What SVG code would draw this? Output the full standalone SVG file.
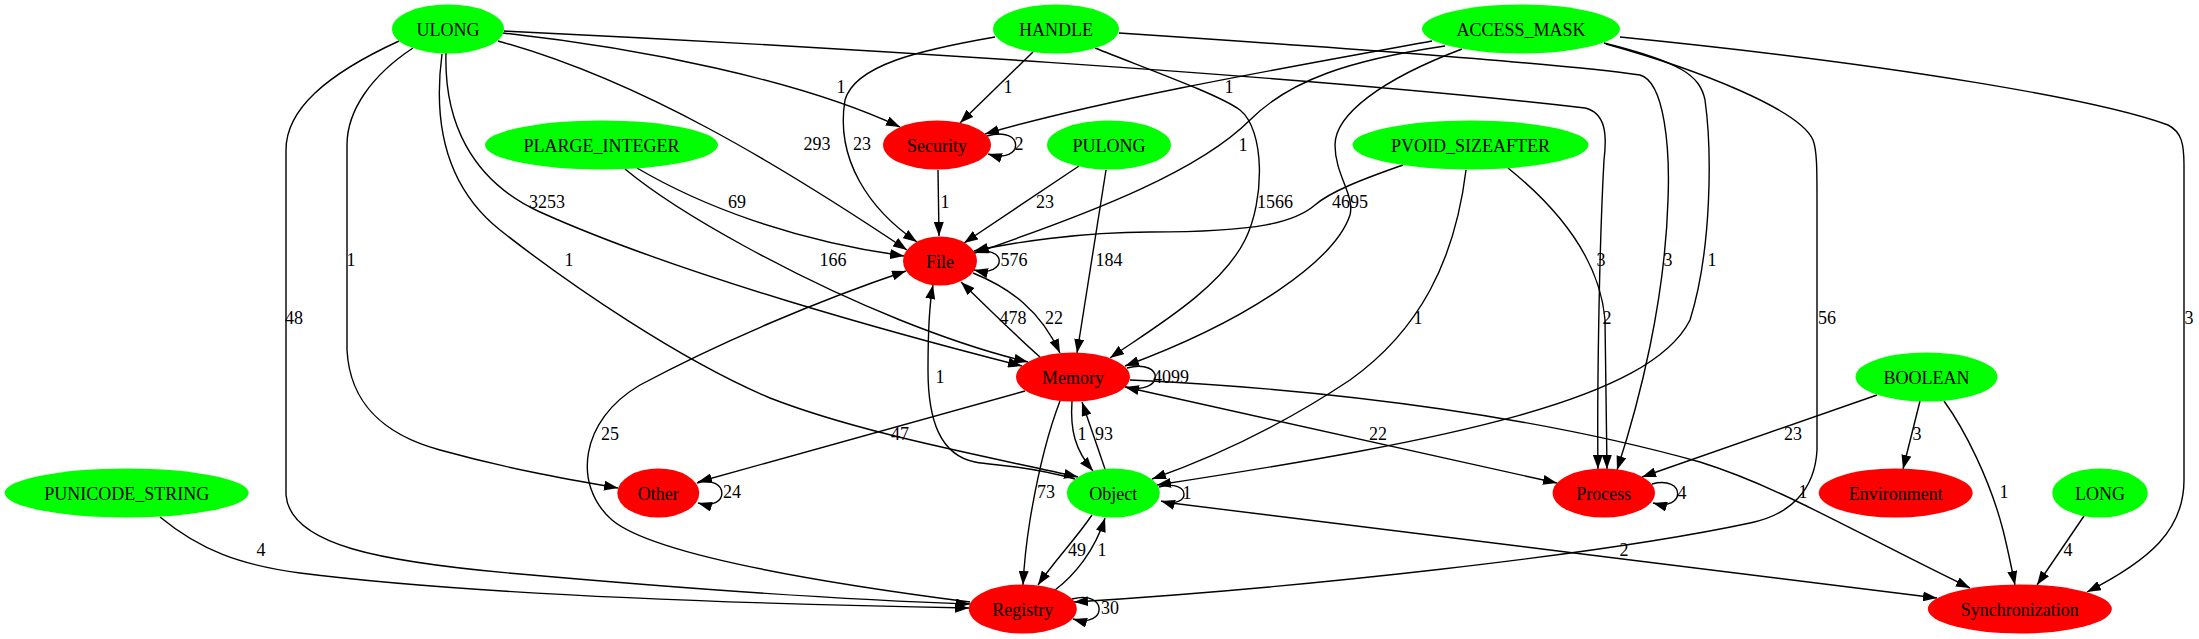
<svg xmlns="http://www.w3.org/2000/svg" width="2199" height="639" viewBox="0 0 2199 639">
<style>
text{font-family:"Liberation Serif","Times New Roman",serif;font-size:18px;text-anchor:middle;fill:#000}
.g{fill:#00ff00}
.r{fill:#ff0000}
#edges path{fill:none;stroke:#000;stroke-width:1.4;marker-end:url(#a)}
</style>
<defs>
<marker id="a" markerUnits="userSpaceOnUse" markerWidth="14" markerHeight="10" refX="14" refY="5" orient="auto"><path d="M0,0 L14,5 L0,10 z" fill="#000"/></marker>
</defs>
<rect width="2199" height="639" fill="#fff"/>
<g id="edges">
<path d="M503,33 C640,48 800,80 900,127"/>
<path d="M498,41 C640,80 780,165 907,250"/>
<path d="M446,53 C444,120 470,180 540,212 C680,275 900,335 1022,366"/>
<path d="M442,54 C432,130 450,190 500,230 C570,285 680,360 770,398 C860,433 980,455 1078,477"/>
<path d="M413,48 C372,75 347,110 347,145 L347,350 C350,405 385,435 440,450 C505,468 560,478 618,488"/>
<path d="M399,41 C325,75 286,110 286,150 L286,495 C290,545 380,562 520,574 C700,590 850,600 970,604"/>
<path d="M504,31 C800,45 1300,75 1585,108 C1606,113 1607,135 1604,160 C1599,250 1597,400 1598,469"/>
<path d="M160,517 C200,550 240,565 300,573 C450,592 700,603 969,608"/>
<path d="M1033,52 L960,123"/>
<path d="M995,37 C920,50 855,65 845,100 C835,160 870,210 917,242"/>
<path d="M1095,48 C1150,70 1220,95 1240,110 C1265,130 1265,200 1245,240 C1220,290 1150,330 1110,358"/>
<path d="M1119,33 C1300,45 1550,62 1640,75 C1665,82 1670,150 1668,200 C1665,300 1640,400 1617,470"/>
<path d="M1432,41 C1300,65 1100,100 985,134"/>
<path d="M1445,46 C1350,60 1290,80 1250,120 C1200,170 1100,210 975,253"/>
<path d="M1462,49 C1380,80 1335,115 1335,145 C1335,175 1355,195 1350,215 C1335,260 1250,320 1125,366"/>
<path d="M1604,43 C1680,62 1700,75 1705,100 C1712,150 1712,250 1690,320 C1650,400 1450,440 1157,485"/>
<path d="M1606,44 C1700,70 1800,110 1813,140 C1817,150 1817,170 1817,200 L1817,450 C1815,490 1790,515 1750,523 C1600,555 1300,588 1074,602"/>
<path d="M1620,37 C1900,65 2100,100 2168,125 C2182,132 2184,145 2184,165 L2184,480 C2184,530 2150,560 2087,592"/>
<path d="M637,168 C700,205 790,240 904,256"/>
<path d="M625,169 C680,215 800,280 900,320 C950,340 990,353 1028,362"/>
<path d="M1079,166 L964,243"/>
<path d="M1106,170 L1077,353"/>
<path d="M1403,165 C1360,180 1330,192 1315,205 C1295,222 1260,232 1150,232 C1080,232 1010,243 974,251"/>
<path d="M1466,170 C1455,260 1420,330 1350,380 C1290,420 1220,455 1152,479"/>
<path d="M1508,168 C1560,210 1600,260 1605,320 L1607,469"/>
<path d="M987,136 C1025,125 1025,165 988,154"/>
<path d="M938,170 L939,236"/>
<path d="M972,253 C1008,243 1008,278 974,270"/>
<path d="M973,273 C1010,288 1040,310 1060,353"/>
<path d="M1127,368 C1165,358 1165,396 1125,387"/>
<path d="M1040,357 C1015,335 985,305 961,282"/>
<path d="M1025,391 L698,482"/>
<path d="M1072,401 C1070,430 1075,450 1093,471"/>
<path d="M1060,401 C1045,440 1035,490 1030,520 C1026,545 1024,565 1023,585"/>
<path d="M1125,387 L1557,483"/>
<path d="M1130,380 C1350,390 1550,420 1700,462 C1780,487 1850,530 1970,588"/>
<path d="M1159,487 C1192,478 1192,510 1161,501"/>
<path d="M1075,479 C1020,464 995,466 975,462 C940,455 928,420 928,370 C928,330 930,300 933,285"/>
<path d="M1105,469 L1082,402"/>
<path d="M1092,515 C1075,540 1055,560 1038,585"/>
<path d="M1163,502 C1400,530 1700,570 1937,598"/>
<path d="M1072,599 C1108,589 1108,629 1073,619"/>
<path d="M970,602 C800,580 650,552 612,520 C572,485 580,420 640,385 C720,342 820,300 906,271"/>
<path d="M1055,590 C1075,575 1095,550 1105,518"/>
<path d="M697,483 C730,474 730,512 698,503"/>
<path d="M1652,484 C1686,475 1686,512 1653,503"/>
<path d="M1877,395 L1642,477"/>
<path d="M1920,401 L1903,469"/>
<path d="M1944,401 C1965,430 1990,480 2003,530 C2008,550 2012,570 2015,585"/>
<path d="M2084,516 L2037,585"/>
</g>
<g id="edge-labels">
<text x="841" y="93">1</text>
<text x="1008" y="93">1</text>
<text x="1229" y="93">1</text>
<text x="817" y="150">293</text>
<text x="862" y="150">23</text>
<text x="1019" y="150">2</text>
<text x="1243" y="151">1</text>
<text x="547" y="208">3253</text>
<text x="737" y="208">69</text>
<text x="945" y="208">1</text>
<text x="1045" y="208">23</text>
<text x="1275" y="208">1566</text>
<text x="1350" y="208">4695</text>
<text x="351" y="266">1</text>
<text x="569" y="266">1</text>
<text x="833" y="266">166</text>
<text x="1014" y="266">576</text>
<text x="1109" y="266">184</text>
<text x="1601" y="266">3</text>
<text x="1668" y="266">3</text>
<text x="1712" y="266">1</text>
<text x="294" y="324">48</text>
<text x="1013" y="324">478</text>
<text x="1054" y="324">22</text>
<text x="1418" y="324">1</text>
<text x="1607" y="324">2</text>
<text x="1827" y="324">56</text>
<text x="2189" y="324">3</text>
<text x="1171" y="383">4099</text>
<text x="940" y="383">1</text>
<text x="610" y="440">25</text>
<text x="900" y="440">47</text>
<text x="1082" y="440">1</text>
<text x="1104" y="440">93</text>
<text x="1378" y="440">22</text>
<text x="1793" y="440">23</text>
<text x="1917" y="440">3</text>
<text x="732" y="498">24</text>
<text x="1046" y="498">73</text>
<text x="1187" y="499">1</text>
<text x="1682" y="499">4</text>
<text x="1803" y="498">1</text>
<text x="2004" y="498">1</text>
<text x="261" y="556">4</text>
<text x="1077" y="556">49</text>
<text x="1102" y="556">1</text>
<text x="1624" y="556">2</text>
<text x="2068" y="556">4</text>
<text x="1110" y="614">30</text>
</g>
<g id="ULONG"><ellipse class="g" cx="448" cy="29" rx="56" ry="24.5"/><text x="448" y="35.5">ULONG</text></g>
<g id="HANDLE"><ellipse class="g" cx="1056" cy="29" rx="63" ry="24.5"/><text x="1056" y="35.5">HANDLE</text></g>
<g id="ACCESS_MASK"><ellipse class="g" cx="1521" cy="29" rx="99" ry="24.5"/><text x="1521" y="35.5">ACCESS_MASK</text></g>
<g id="PLARGE_INTEGER"><ellipse class="g" cx="601.5" cy="145" rx="116.5" ry="24.5"/><text x="601.5" y="151.5">PLARGE_INTEGER</text></g>
<g id="Security"><ellipse class="r" cx="937" cy="145" rx="54" ry="24.5"/><text x="937" y="151.5">Security</text></g>
<g id="PULONG"><ellipse class="g" cx="1109" cy="145" rx="62" ry="24.5"/><text x="1109" y="151.5">PULONG</text></g>
<g id="PVOID_SIZEAFTER"><ellipse class="g" cx="1470.5" cy="145" rx="118" ry="24.5"/><text x="1470.5" y="151.5">PVOID_SIZEAFTER</text></g>
<g id="File"><ellipse class="r" cx="940" cy="261" rx="37" ry="24.5"/><text x="940" y="267.5">File</text></g>
<g id="Memory"><ellipse class="r" cx="1073" cy="377" rx="57" ry="24.5"/><text x="1073" y="383.5">Memory</text></g>
<g id="BOOLEAN"><ellipse class="g" cx="1926.5" cy="377" rx="71" ry="24.5"/><text x="1926.5" y="383.5">BOOLEAN</text></g>
<g id="PUNICODE_STRING"><ellipse class="g" cx="126.7" cy="493" rx="122" ry="24.5"/><text x="126.7" y="499.5">PUNICODE_STRING</text></g>
<g id="Other"><ellipse class="r" cx="658.3" cy="493" rx="41" ry="24.5"/><text x="658.3" y="499.5">Other</text></g>
<g id="Object"><ellipse class="g" cx="1113.3" cy="493" rx="46.5" ry="24.5"/><text x="1113.3" y="499.5">Object</text></g>
<g id="Process"><ellipse class="r" cx="1603.8" cy="493" rx="51.2" ry="24.5"/><text x="1603.8" y="499.5">Process</text></g>
<g id="Environment"><ellipse class="r" cx="1895.7" cy="493" rx="77" ry="24.5"/><text x="1895.7" y="499.5">Environment</text></g>
<g id="LONG"><ellipse class="g" cx="2100" cy="493" rx="47.7" ry="24.5"/><text x="2100" y="499.5">LONG</text></g>
<g id="Registry"><ellipse class="r" cx="1022.8" cy="609" rx="54" ry="24.5"/><text x="1022.8" y="615.5">Registry</text></g>
<g id="Synchronization"><ellipse class="r" cx="2019.8" cy="609" rx="92" ry="24.5"/><text x="2019.8" y="615.5">Synchronization</text></g>
</svg>
